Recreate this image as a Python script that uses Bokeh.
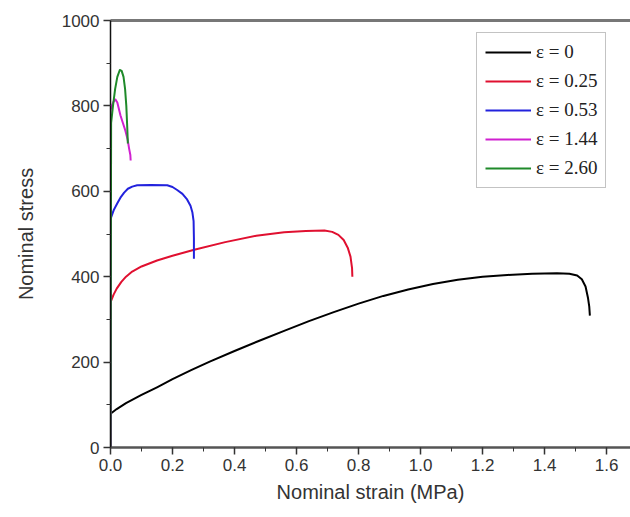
from bokeh.plotting import figure
from bokeh.models import (Range1d, SingleIntervalTicker, PrintfTickFormatter, LinearAxis,
                          FixedTicker, Legend, LegendItem)
from bokeh.embed import file_html
from bokeh.resources import INLINE

# ---- data ----
strain_0 = [0, 0.0, 0.02, 0.05, 0.1, 0.15, 0.2, 0.26, 0.32, 0.4, 0.48, 0.56, 0.64, 0.72, 0.8,
            0.88, 0.96, 1.04, 1.12, 1.2, 1.28, 1.36, 1.44, 1.48, 1.505, 1.52, 1.532, 1.54, 1.544, 1.546]
stress_0 = [0, 79, 90, 104, 123, 141, 160, 181, 201, 226, 250, 273, 296, 317, 337,
            355, 370, 383, 393, 400, 404, 407, 408, 407, 403, 394, 377, 350, 330, 309]

strain_025 = [0, 0.0, 0.01, 0.02, 0.035, 0.05, 0.07, 0.1, 0.15, 0.2, 0.27, 0.37, 0.47, 0.56, 0.63,
              0.69, 0.715, 0.735, 0.752, 0.765, 0.774, 0.779, 0.78]
stress_025 = [0, 340, 358, 372, 388, 400, 412, 424, 438, 449, 463, 481, 496, 504, 507,
              508, 505, 498, 486, 468, 447, 420, 400]

strain_053 = [0, 0.0, 0.011, 0.022, 0.032, 0.044, 0.056, 0.07, 0.086, 0.13, 0.183, 0.2, 0.215,
              0.232, 0.247, 0.258, 0.264, 0.268, 0.269, 0.269]
stress_053 = [0, 535, 557, 572, 585, 597, 606, 611, 614, 615, 614, 610, 603,
              594, 581, 566, 551, 530, 490, 442]

strain_144 = [0, 0.0, 0.004, 0.01, 0.016, 0.022, 0.032, 0.04, 0.048, 0.055, 0.06, 0.064, 0.065]
stress_144 = [0, 790, 800, 810, 815, 808, 778, 760, 742, 722, 700, 685, 672]

strain_260 = [0, 0.002, 0.008, 0.015, 0.022, 0.03, 0.036, 0.042, 0.047, 0.051, 0.054, 0.056]
stress_260 = [0, 760, 800, 840, 868, 884, 882, 868, 840, 800, 750, 712]

labels = ["ε = 0", "ε = 0.25", "ε = 0.53", "ε = 1.44", "ε = 2.60"]
colors = ["#000000", "#e01030", "#2222dd", "#d020d0", "#1f8a2a"]

series = [(strain_0, stress_0), (strain_025, stress_025), (strain_053, stress_053),
          (strain_144, stress_144), (strain_260, stress_260)]

p = figure(width=630, height=517, output_backend="svg", toolbar_location=None,
           x_range=Range1d(0, 1.677), y_range=Range1d(0, 1000),
           min_border_left=110, min_border_right=0, min_border_top=20, min_border_bottom=70)
p.outline_line_color = None
p.grid.grid_line_color = None
p.background_fill_color = "white"

items = []
for (xs, ys), lab, col in zip(series, labels, colors):
    r = p.line(xs, ys, line_color=col, line_width=2, line_join="round")
    items.append(LegendItem(label=lab, renderers=[r]))

# axes
xa = p.xaxis[0]
xa.ticker = SingleIntervalTicker(interval=0.2, num_minor_ticks=2)
xa.formatter = PrintfTickFormatter(format="%.1f")
ya = p.yaxis[0]
ya.ticker = SingleIntervalTicker(interval=200, num_minor_ticks=2)

for ax in (xa, ya):
    ax.major_tick_in = 0
    ax.major_tick_out = 7
    ax.minor_tick_in = 0
    ax.minor_tick_out = 4
    ax.major_label_text_font = "Liberation Sans"
    ax.major_label_text_font_size = "17px"
    ax.major_label_text_color = "#333333"
    ax.axis_label_text_font = "Liberation Sans"
    ax.axis_label_text_font_size = "20px"
    ax.axis_label_text_font_style = "normal"
    ax.axis_label_text_color = "#333333"
    ax.major_label_standoff = 4

xa.axis_label = "Nominal strain (MPa)"
xa.axis_line_color = "#555555"
xa.axis_line_width = 2.5
xa.major_tick_line_color = "#333333"
xa.minor_tick_line_color = "#333333"
xa.major_tick_line_width = 1.5
xa.axis_label_standoff = 7

ya.axis_label = "Nominal stress"
ya.axis_line_color = "#111111"
ya.axis_line_width = 1.5
ya.major_tick_line_color = "#333333"
ya.minor_tick_line_color = "#333333"
ya.major_tick_line_width = 1.5
ya.axis_label_standoff = 22

top = LinearAxis(ticker=FixedTicker(ticks=[]), axis_line_color="#777777", axis_line_width=3)
p.add_layout(top, "above")

legend = Legend(items=items, location=(366, 259))
legend.label_text_font = "Liberation Serif"
legend.label_text_font_size = "19px"
legend.label_text_color = "#222222"
legend.glyph_width = 46
legend.glyph_height = 22
legend.label_height = 22
legend.spacing = 7
legend.padding = 8
legend.label_standoff = 5
legend.border_line_color = "#888888"
legend.border_line_width = 1.5
legend.background_fill_color = "white"
legend.background_fill_alpha = 1
p.add_layout(legend, "center")

open("out.html", "w").write(file_html(p, INLINE))
